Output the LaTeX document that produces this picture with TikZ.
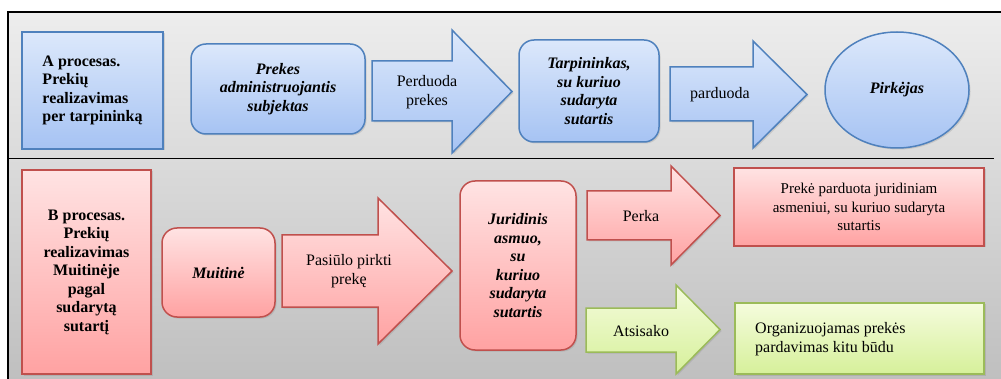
\documentclass[tikz,border=0pt]{standalone}
\usepackage{fontspec}
\setmainfont{Liberation Serif}
\newfontfamily\timesfont{Liberation Serif}
\usepackage{tikz}
\usetikzlibrary{shadows}
\usetikzlibrary{shapes.geometric}

\definecolor{blueline}{HTML}{4F81BD}
\definecolor{bluetop}{HTML}{DCE8FB}
\definecolor{bluebot}{HTML}{A6C3F3}
\definecolor{redline}{HTML}{C0504D}
\definecolor{redtop}{HTML}{FFE3E3}
\definecolor{redbot}{HTML}{FFA2A2}
\definecolor{greenline}{HTML}{9BBB59}
\definecolor{greentop}{HTML}{F5FCDD}
\definecolor{greenbot}{HTML}{D6F09A}

\newcommand{\txtsize}{\timesfont\fontsize{16}{18.5}\selectfont}

\tikzset{
  txt/.style={font=\txtsize, align=center, inner sep=0pt},
  boldtxt/.style={txt, font=\txtsize\bfseries},
  bitxt/.style={txt, font=\txtsize\bfseries\itshape},
  box/.style={rectangle, line width=1.5pt, inner sep=0pt,
    drop shadow={opacity=0.25, shadow xshift=1.5pt, shadow yshift=-1.5pt}},
  rbox/.style={box, rounded corners=15pt},
  bluefill/.style={draw=blueline, top color=bluetop, bottom color=bluebot},
  redfill/.style={draw=redline, top color=redtop, bottom color=redbot},
  greenfill/.style={draw=greenline, top color=greentop, bottom color=greenbot},
  arrowfill/.style={line width=1.5pt, line join=miter,
    drop shadow={opacity=0.25, shadow xshift=1.5pt, shadow yshift=-1.5pt}},
}

% style, x start, x head, x tip, head top, shaft top, shaft bottom, head bottom
\newcommand{\blockarrow}[8]{%
  \path[arrowfill, #1] (#2,#6) -- (#3,#6) -- (#3,#5) -- (#4,{(#5+#8)/2})
    -- (#3,#8) -- (#3,#7) -- (#2,#7) -- cycle;}

\begin{document}
\begin{tikzpicture}[x=1pt, y=-1pt]
\useasboundingbox (0,0) rectangle (1001,379);

% Frame
\shade[top color=black!7, bottom color=black!25] (8,12) rectangle (1001,379);
\draw[line width=1.6pt] (1001,12) -- (8,12) -- (8,379);
\draw[line width=1.6pt] (8,158.5) -- (994,158.5);

% Top row: A procesas
\node[box, bluefill, minimum width=141pt, minimum height=117pt] (aproc) at (92.5,90.5) {};
\node[boldtxt, align=left] (atext) at (aproc) {A procesas.\\Prekių\\realizavimas\\per tarpininką};
\node[rbox, bluefill, minimum width=174pt, minimum height=90pt] (subj) at (278,89) {};
\node[bitxt] (subjtext) at (subj) {Prekes\\administruojantis\\subjektas};
\blockarrow{bluefill}{372}{452}{512}{30}{61}{121}{153}
\node[txt] (perduoda) at (427,92) {Perduoda\\prekes};
\node[rbox, bluefill, minimum width=140pt, minimum height=102pt] (tarp) at (589,91) {};
\node[bitxt] (tarptext) at (tarp) {Tarpininkas,\\su kuriuo\\sudaryta\\sutartis};
\blockarrow{bluefill}{670}{753}{807}{41}{67}{121}{148}
\node[txt] (parduoda) at (720,95) {parduoda};
\node[box, ellipse, bluefill, minimum width=144pt, minimum height=116pt] (pirk) at (897,90) {};
\node[bitxt] (pirktext) at (pirk) {Pirkėjas};

% Bottom row: B procesas
\node[box, redfill, minimum width=129pt, minimum height=204pt] (bproc) at (86.5,272) {};
\node[boldtxt] (btext) at (bproc) {B procesas.\\Prekių\\realizavimas\\Muitinėje\\pagal\\sudarytą\\sutartį};
\node[rbox, redfill, minimum width=113pt, minimum height=89pt] (muit) at (218.5,272.5) {};
\node[bitxt] (muittext) at (muit) {Muitinė};
\blockarrow{redfill}{282}{378}{452}{198}{235}{307}{344}
\node[txt] (pasiulo) at (349,271) {Pasiūlo pirkti\\prekę};
\node[rbox, redfill, minimum width=116pt, minimum height=169pt] (jur) at (518,265.5) {};
\node[bitxt] (jurtext) at (jur) {Juridinis\\asmuo,\\su\\kuriuo\\sudaryta\\sutartis};
\blockarrow{redfill}{587}{671}{720}{166}{191}{240}{265}
\node[txt] (perka) at (641,216) {Perka};
\blockarrow{greenfill}{586}{676}{720}{285}{308}{352}{374}
\node[txt] (atsisako) at (641,331) {Atsisako};
\node[box, redfill, minimum width=250pt, minimum height=78pt] (parduota) at (859,207) {};
\node[txt, font=\timesfont\fontsize{15}{18.3}\selectfont] (parduotatext) at (parduota) {Prekė parduota juridiniam\\asmeniui, su kuriuo sudaryta\\sutartis};
\node[box, greenfill, minimum width=249pt, minimum height=71pt] (kitu) at (859.5,338.5) {};
\node[txt, align=left, anchor=west] (kitutext) at (755,339) {Organizuojamas prekės\\pardavimas kitu būdu};
\end{tikzpicture}
\end{document}
